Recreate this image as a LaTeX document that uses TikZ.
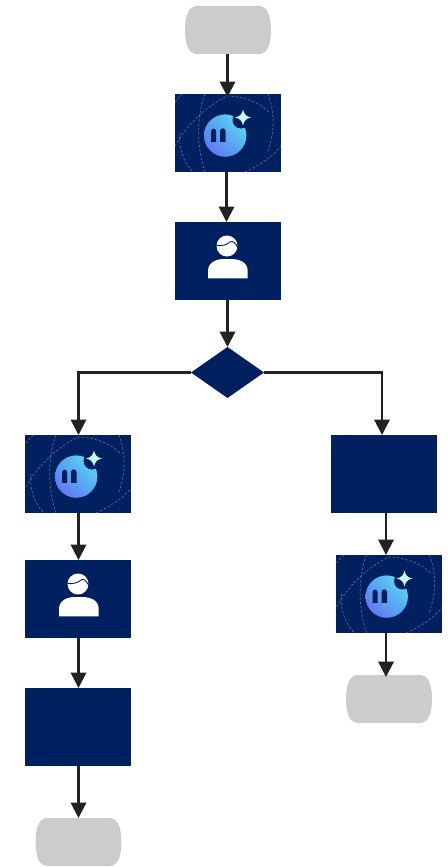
\documentclass[tikz,border=0pt]{standalone}
\usetikzlibrary{arrows.meta,shapes.geometric,shadings}
\definecolor{navy}{HTML}{002060}
\definecolor{term}{HTML}{CCCCCC}
\definecolor{wire}{HTML}{222222}
\definecolor{orbA}{HTML}{6C68EE}
\definecolor{orbB}{HTML}{4FA6F4}
\definecolor{orbC}{HTML}{62EAF0}
\definecolor{sparkle}{HTML}{C4FAF2}
\tikzset{
  boxnode/.style={rectangle,fill=navy,minimum width=106pt,minimum height=78pt,inner sep=0pt,outer sep=0pt},
  termnode/.style={rectangle,minimum width=86pt,minimum height=48pt,inner sep=0pt,outer sep=0pt},
  decnode/.style={diamond,fill=navy,aspect=1.43,minimum width=73pt,minimum height=51pt,inner sep=0pt,outer sep=0pt},
  flow/.style={draw=wire,line width=2.1pt,-{Triangle[length=15.5pt,width=15.5pt]},line join=miter},
  faint/.style={draw=white,opacity=.33,line width=.7pt,dash pattern=on 2.5pt off 1.8pt},
  pics/termshape/.style={code={
    \fill[term] (-31,-24) -- (31,-24) .. controls (39,-24) and (43,-15) .. (43,0) .. controls (43,15) and (39,24) .. (31,24) -- (-31,24) .. controls (-39,24) and (-43,15) .. (-43,0) .. controls (-43,-15) and (-39,-24) .. (-31,-24) -- cycle;
  }},
  pics/aiicon/.style={code={
    \begin{scope}
      \clip (-53,-39) rectangle (53,39);
      \path[faint] (-23,-39) .. controls (-32,-15) and (-31,15) .. (-23,39);
      \path[faint] (40,-39) .. controls (47,-20) and (47,0) .. (39,20);
      \path[faint] (17,39) .. controls (30,33) and (45,24) .. (53,13);
      \path[faint] (-53,13) .. controls (-44,-5) and (-22,-27) .. (-1,-37);
      \path[faint] (-48,0) .. controls (-50,15) and (-44,30) .. (-35,39);
      \path[faint] (-1,-37) .. controls (15,-37) and (33,-30) .. (42,-20);
      \path[faint] (-53,-31) -- (-46,-39);
    \end{scope}
    \shade[lower left=orbA,lower right=orbB,upper left=orbB,upper right=orbC] (-2.8,2.6) circle (21.2);
    \fill[navy] (13,-13) circle (8.5);
    \fill[sparkle] (15,-23.5) .. controls (16.2,-18.7) and (17.8,-16.6) .. (23,-15.5) .. controls (17.8,-14.4) and (16.2,-12.3) .. (15,-7.5) .. controls (13.8,-12.3) and (12.2,-14.4) .. (7,-15.5) .. controls (12.2,-16.6) and (13.8,-18.7) .. (15,-23.5) -- cycle;
    \fill[navy] (-16.8,8.8) -- (-16.8,-2) arc[start angle=180,end angle=360,radius=2.4] -- (-12,8.8) -- cycle;
    \fill[navy] (-7.9,8.8) -- (-7.9,-2) arc[start angle=180,end angle=360,radius=2.7] -- (-2.5,8.8) -- cycle;
  }},
  pics/personicon/.style={code={
    \fill[white] (-1,-15) circle (10.5);
    \draw[navy,line width=.9pt] (-11.5,-15.5) .. controls (-5,-15) and (-2,-16) .. (2,-19) .. controls (5,-21) and (7,-18) .. (10,-13.5);
    \fill[white] (-20,17.3) -- (-20,10) .. controls (-20,1) and (-11,-2) .. (-4,-2) -- (3,-2) .. controls (11,-2) and (19.7,1) .. (19.7,10) -- (19.7,17.3) -- cycle;
  }}
}
\begin{document}
\begin{tikzpicture}[x=1pt,y=-1pt]
\useasboundingbox (0,0) rectangle (447,867);
\node[termnode] (start) at (228,30) {};
\node[boxnode] (ai1) at (228,133) {};
\node[boxnode] (hu1) at (228,261) {};
\node[decnode] (dec) at (227.5,372.5) {};
\node[boxnode] (ai2) at (78,474) {};
\node[boxnode] (hu2) at (78,599) {};
\node[boxnode] (blk1) at (78,727) {};
\node[termnode] (end1) at (78.5,842) {};
\node[boxnode] (blk2) at (384,474) {};
\node[boxnode] (ai3) at (389,594) {};
\node[termnode] (end2) at (389,699) {};
\pic at (start.center) {termshape};
\pic at (end1.center) {termshape};
\pic at (end2.center) {termshape};
\pic at (ai1.center) {aiicon};
\pic at (hu1.center) {personicon};
\pic at ([xshift=1pt]ai2.center) {aiicon};
\pic at ([xshift=1pt]hu2.center) {personicon};
\pic at ([xshift=.5pt]ai3.center) {aiicon};
\draw[flow] ([xshift=-.5pt]start.south) -- ([xshift=-.5pt,yshift=-3pt]ai1.north);
\draw[flow] ([xshift=-1.5pt]ai1.south) -- ([xshift=-1.5pt]hu1.north);
\draw[flow] ([xshift=-.5pt]hu1.south) -- (dec.north);
\draw[flow] (dec.west) -| ([xshift=.5pt]ai2.north);
\draw[flow] (dec.east) -| ([xshift=-2pt]blk2.north);
\draw[flow] ([xshift=.5pt]ai2.south) -- ([xshift=.5pt]hu2.north);
\draw[flow] ([xshift=.5pt]hu2.south) -- ([xshift=.5pt]blk1.north);
\draw[flow] ([xshift=.5pt]blk1.south) -- ([xshift=0pt]end1.north);
\draw[flow] ([xshift=2pt]blk2.south) -- ([xshift=-3pt]ai3.north);
\draw[flow] ([xshift=-3pt]ai3.south) -- ([xshift=-3pt,yshift=-2pt]end2.north);
\end{tikzpicture}
\end{document}
